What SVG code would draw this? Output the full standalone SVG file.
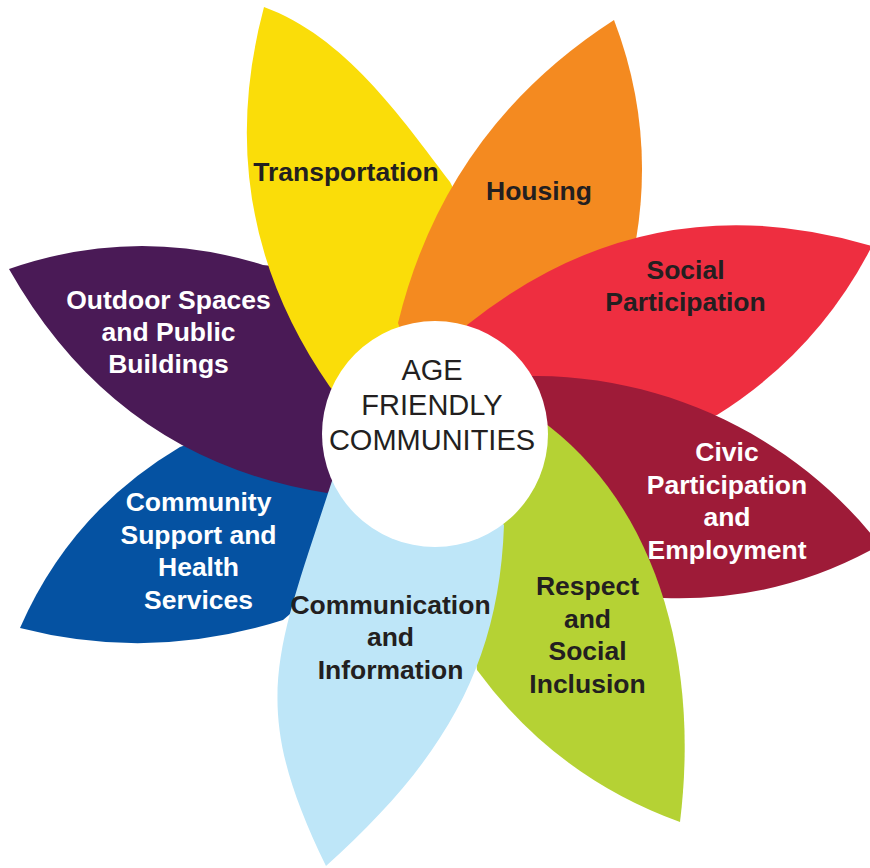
<svg xmlns="http://www.w3.org/2000/svg" width="870" height="868" viewBox="0 0 870 868">
<style>
.lbl{font-family:"Liberation Sans",Arial,Helvetica,sans-serif;font-weight:bold;font-size:26.5px;text-anchor:middle}
.dk{fill:#231F20}
.wh{fill:#FFFFFF}
.ctr{font-family:"Liberation Sans",Arial,Helvetica,sans-serif;font-size:29px;fill:#231F20;text-anchor:middle}
</style>
<rect width="870" height="868" fill="#FFFFFF"/>
<g id="community-support">
<path fill="#0552A2" d="M400,450 L260,420 L180,447 Q70.8,511.7 20,628 Q151.5,662 283,620 L330,580 Z"/>
<text class="lbl wh"><tspan x="198.5" y="511">Community</tspan><tspan x="198.5" y="543.5">Support and</tspan><tspan x="198.5" y="576">Health</tspan><tspan x="198.5" y="608.5">Services</tspan></text>
</g>
<g id="outdoor-spaces">
<path fill="#4A1A56" d="M400,440 L327,493 Q117,460 9,269 Q136,225 263,265 L290,268 L330,300 Z"/>
<text class="lbl wh"><tspan x="168.5" y="309">Outdoor Spaces</tspan><tspan x="168.5" y="341">and Public</tspan><tspan x="168.5" y="373">Buildings</tspan></text>
</g>
<g id="transportation">
<path fill="#FADD09" d="M390,450 L330,387 Q209,213 264,7 C344.3,36.2 400.9,116.8 450,182 L490,260 L470,400 Z"/>
<text class="lbl dk" x="346" y="181">Transportation</text>
</g>
<g id="housing">
<path fill="#F48A20" d="M440,440 L398,323 Q445.6,128.5 614,20 Q655,127 636,240 L600,340 L500,430 Z"/>
<text class="lbl dk" x="539" y="200">Housing</text>
</g>
<g id="social-participation">
<path fill="#EE2E40" d="M470,420 L467,325 Q648.9,179.5 872,246 Q817.7,351.9 717,415 L640,440 Z"/>
<text class="lbl dk"><tspan x="685.5" y="278.5">Social</tspan><tspan x="685.5" y="311">Participation</tspan></text>
</g>
<g id="civic-participation">
<path fill="#9E1B38" d="M520,470 L525,376 L537,376 C671,377 797.7,439.3 880,545 Q779.1,602.3 663,598 L620,600 Z"/>
<text class="lbl wh"><tspan x="727" y="461">Civic</tspan><tspan x="727" y="493.5">Participation</tspan><tspan x="727" y="526">and</tspan><tspan x="727" y="558.5">Employment</tspan></text>
</g>
<g id="respect-inclusion">
<path fill="#B5D234" d="M500,460 L542,421 L550,427 C652.4,507 700.7,653.3 680,822 Q555.3,777 477,670 L470,600 Z"/>
<text class="lbl dk"><tspan x="587.5" y="595">Respect</tspan><tspan x="587.5" y="627.5">and</tspan><tspan x="587.5" y="660">Social</tspan><tspan x="587.5" y="692.5">Inclusion</tspan></text>
</g>
<g id="communication">
<path fill="#BEE6F8" d="M430,440 L335,472 L330,487 C275,656.3 248,706 326,866 C440.4,763 499,669.3 504,525 Z"/>
<text class="lbl dk"><tspan x="390.5" y="613.5">Communication</tspan><tspan x="390.5" y="646">and</tspan><tspan x="390.5" y="678.5">Information</tspan></text>
</g>
<g id="center">
<circle cx="435" cy="434" r="113" fill="#FFFFFF"/>
<text class="ctr"><tspan x="432" y="380">AGE</tspan><tspan x="432" y="415">FRIENDLY</tspan><tspan x="432" y="450">COMMUNITIES</tspan></text>
</g>
<g id="connectors"/>
</svg>
